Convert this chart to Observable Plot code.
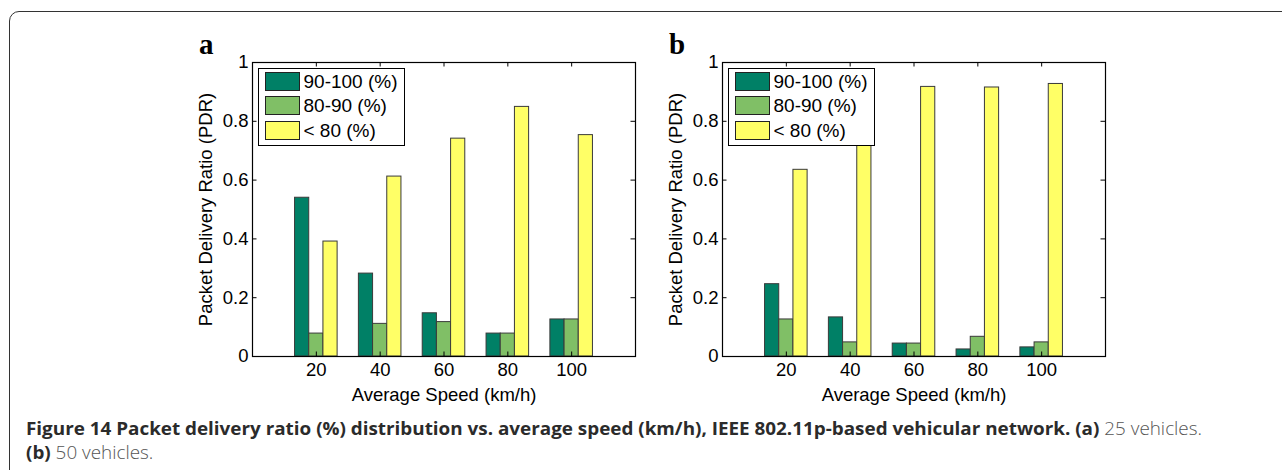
<!DOCTYPE html>
<html><head><meta charset="utf-8">
<script src="https://cdn.jsdelivr.net/npm/d3@7"></script>
<script src="https://cdn.jsdelivr.net/npm/@observablehq/plot@0.6"></script>
<style>
html,body{margin:0;padding:0;background:#fff;overflow:hidden;}
#root{position:relative;width:1282px;height:470px;overflow:hidden;font-family:"Liberation Sans",Arial,sans-serif;}
#border{position:absolute;left:9px;top:11px;width:1400px;height:600px;border:1.5px solid #333;border-top-left-radius:10px;box-sizing:border-box;}
.panel{position:absolute;top:20px;}
.letter{position:absolute;font-family:"Liberation Serif","Times New Roman",serif;font-weight:bold;font-size:29px;line-height:1;color:#000;}
.legend{position:absolute;background:#fff;border:1.5px solid #000;box-sizing:border-box;width:147px;height:78px;}
.sw{position:absolute;left:6px;width:35px;height:19px;border:1.2px solid #222;box-sizing:border-box;}
.lt{position:absolute;left:45px;font-size:19px;line-height:19px;color:#000;white-space:nowrap;}
.cap{position:absolute;left:26px;font-family:"Open Sans","Noto Sans",sans-serif;font-size:18.5px;white-space:nowrap;transform-origin:0 0;line-height:1;}
.cap b{font-weight:700;color:#2b2b2b;}
.cap span.l{font-weight:300;color:#555;}
</style>
</head><body>
<div id="root">
  <div id="border"></div>
</div>
<script>
const speeds = [20, 40, 60, 80, 100];
const seriesNames = ["90-100 (%)", "80-90 (%)", "< 80 (%)"];
const colors = ["#008066", "#80BF66", "#FFFF66"];
const xTicks = [20, 40, 60, 80, 100];
const yTicks = [0, 0.2, 0.4, 0.6, 0.8, 1];
// panel a: 25 vehicles
const a_high = [0.540, 0.282, 0.147, 0.078, 0.126];
const a_mid  = [0.078, 0.111, 0.117, 0.078, 0.126];
const a_low  = [0.391, 0.612, 0.741, 0.849, 0.753];
// panel b: 50 vehicles
const b_high = [0.246, 0.133, 0.044, 0.024, 0.031];
const b_mid  = [0.126, 0.048, 0.044, 0.067, 0.048];
const b_low  = [0.635, 0.800, 0.917, 0.915, 0.927];
const xLabel = "Average Speed (km/h)";
const yLabel = "Packet Delivery Ratio (PDR)";

const root = document.getElementById("root");
const W = 500, H = 390, mL = 102, mR = 15, mT = 42, mB = 54;
const pw = W - mL - mR, ph = H - mT - mB;
const step = 20, bw = step * (2/3) / 3;
const font = '"Liberation Sans", Arial, sans-serif';
const fs = 18.5;

function panel(series, left, letter) {
  const rows = [];
  series.forEach((vals, s) => vals.forEach((v, i) => rows.push({speed: speeds[i], s, name: seriesNames[s], value: v})));
  const svg = Plot.plot({
    width: W, height: H, marginLeft: mL, marginRight: mR, marginTop: mT, marginBottom: mB,
    style: {fontFamily: font, fontSize: fs + "px", color: "#000", background: "transparent", overflow: "visible"},
    x: {domain: [0, 120], ticks: xTicks},
    y: {domain: [0, 1], ticks: yTicks},
    color: {domain: seriesNames, range: colors},
    marks: [
      Plot.rect(rows, {x1: d => d.speed + (d.s - 1.5) * bw, x2: d => d.speed + (d.s - 0.5) * bw, y1: 0, y2: "value", fill: "name", stroke: "#3a3a3a", strokeWidth: 1}),
      Plot.tickY(yTicks, {y: d => d, insetRight: pw - 4.5, stroke: "#000"}),
      Plot.tickY(yTicks, {y: d => d, insetLeft: pw - 4.5, stroke: "#000"}),
      Plot.tickX(xTicks, {x: d => d, insetTop: ph - 4.5, stroke: "#000"}),
      Plot.tickX(xTicks, {x: d => d, insetBottom: ph - 4.5, stroke: "#000"}),
      Plot.frame({stroke: "#000", strokeWidth: 1.2}),
      Plot.axisY({ticks: yTicks, tickSize: 0, tickPadding: 4, tickFormat: d3.format("~g"),
        fontSize: fs, fontFamily: font, fill: "#000",
        label: yLabel, labelAnchor: "center", labelArrow: "none", labelOffset: 54}),
      Plot.axisX({ticks: xTicks, tickSize: 0, tickPadding: 6,
        fontSize: fs, fontFamily: font, fill: "#000",
        label: xLabel, labelAnchor: "center", labelArrow: "none", labelOffset: 44})
    ]
  });
  const wrap = document.createElement("div");
  wrap.className = "panel";
  wrap.style.left = left + "px";
  wrap.appendChild(svg);
  root.appendChild(wrap);

  const L = document.createElement("div");
  L.className = "letter";
  L.textContent = letter;
  L.style.left = (left + mL - 53) + "px";
  L.style.top = "30px";
  root.appendChild(L);

  const lg = document.createElement("div");
  lg.className = "legend";
  lg.style.left = (left + mL + 5.5) + "px";
  lg.style.top = "67.5px";
  seriesNames.forEach((n, i) => {
    const sw = document.createElement("div");
    sw.className = "sw";
    sw.style.top = (3.5 + i * 24.4) + "px";
    sw.style.background = colors[i];
    lg.appendChild(sw);
    const t = document.createElement("div");
    t.className = "lt";
    t.style.top = (3.5 + i * 24.4) + "px";
    t.textContent = n;
    lg.appendChild(t);
  });
  root.appendChild(lg);
}
panel([a_high, a_mid, a_low], 150, "a");
panel([b_high, b_mid, b_low], 620, "b");

// caption
const cap1 = document.createElement("div");
cap1.className = "cap";
cap1.style.top = "419px";
cap1.innerHTML = '<b>Figure 14 Packet delivery ratio (%) distribution vs. average speed (km/h), IEEE 802.11p-based vehicular network. (a)</b><span class="l"> 25 vehicles.</span>';
root.appendChild(cap1);
const cap2 = document.createElement("div");
cap2.className = "cap";
cap2.style.top = "443px";
cap2.innerHTML = '<b>(b)</b><span class="l"> 50 vehicles.</span>';
root.appendChild(cap2);
const w1 = cap1.getBoundingClientRect().width;
const sx = 1176 / w1;
cap1.style.transform = `scaleX(${sx})`;
cap2.style.transform = `scaleX(${sx})`;
</script>
</body></html>
